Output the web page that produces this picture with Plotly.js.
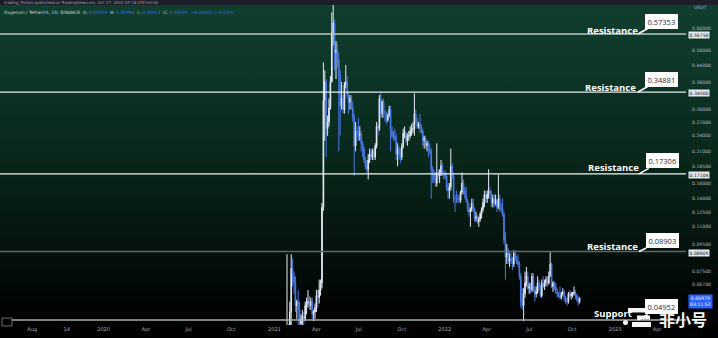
<!DOCTYPE html>
<html><head><meta charset="utf-8">
<script src="https://cdn.plot.ly/plotly-3.0.1.min.js"></script>
<style>
html,body{margin:0;padding:0;background:#000;}
#chart{width:718px;height:338px;background:linear-gradient(to bottom,#10402f 0%,#0d3528 22%,#092619 48%,#05130e 72%,#010403 90%,#000 100%);}
</style></head><body><div id="chart"></div>
<script>
// ---- data (3-day candles, DOGE/USDT, Binance) ----
const periodStart = '2021-01-27';
const periodDays = 3;
const opens = [0.0074,0.037,0.036,0.053,0.077,0.072,0.068,0.056,0.058,0.054,
0.048,0.050,0.051,0.050,0.056,0.057,0.058,0.056,0.058,0.052,
0.053,0.055,0.061,0.060,0.064,0.068,0.130,0.325,0.380,0.255,
0.270,0.305,0.380,0.580,0.630,0.490,0.500,0.460,0.400,0.310,
0.330,0.300,0.370,0.380,0.340,0.320,0.330,0.305,0.280,0.220,
0.250,0.245,0.240,0.245,0.225,0.215,0.195,0.185,0.180,0.195,
0.205,0.200,0.210,0.200,0.220,0.260,0.255,0.330,0.290,0.320,
0.290,0.290,0.275,0.285,0.300,0.250,0.240,0.240,0.235,0.205,
0.215,0.205,0.200,0.220,0.245,0.245,0.230,0.240,0.240,0.250,
0.255,0.255,0.290,0.270,0.260,0.265,0.255,0.250,0.230,0.235,
0.220,0.225,0.215,0.210,0.180,0.175,0.165,0.160,0.175,0.170,
0.175,0.185,0.175,0.170,0.170,0.155,0.150,0.155,0.185,0.170,
0.140,0.140,0.140,0.140,0.138,0.148,0.160,0.150,0.145,0.138,
0.128,0.125,0.128,0.135,0.128,0.118,0.120,0.115,0.118,0.123,
0.128,0.135,0.145,0.140,0.145,0.150,0.145,0.135,0.140,0.135,
0.138,0.130,0.140,0.128,0.128,0.122,0.098,0.085,0.090,0.082,
0.084,0.082,0.080,0.088,0.084,0.082,0.080,0.072,0.058,0.056,
0.062,0.068,0.072,0.065,0.066,0.064,0.072,0.064,0.062,0.063,
0.068,0.066,0.061,0.068,0.066,0.068,0.070,0.068,0.072,0.080,
0.066,0.068,0.066,0.063,0.062,0.061,0.060,0.062,0.063,0.060,
0.058,0.058,0.062,0.061,0.062,0.062,0.063,0.061,0.059,0.058];
const highs = [0.087,0.048,0.058,0.087,0.084,0.075,0.072,0.059,0.064,0.058,
0.052,0.054,0.053,0.058,0.060,0.064,0.061,0.060,0.060,0.054,
0.057,0.064,0.064,0.070,0.070,0.135,0.450,0.420,0.390,0.285,
0.330,0.400,0.690,0.740,0.650,0.540,0.530,0.490,0.420,0.380,
0.340,0.380,0.440,0.400,0.350,0.340,0.340,0.320,0.290,0.270,
0.260,0.280,0.260,0.250,0.230,0.220,0.200,0.195,0.205,0.215,
0.215,0.215,0.215,0.225,0.270,0.265,0.340,0.350,0.325,0.330,
0.300,0.295,0.290,0.310,0.310,0.260,0.250,0.255,0.245,0.225,
0.220,0.215,0.225,0.255,0.260,0.250,0.245,0.250,0.260,0.265,
0.270,0.345,0.300,0.280,0.270,0.290,0.265,0.255,0.240,0.240,
0.230,0.230,0.225,0.215,0.185,0.180,0.175,0.225,0.180,0.180,
0.195,0.190,0.178,0.178,0.175,0.160,0.160,0.215,0.190,0.175,
0.145,0.150,0.145,0.145,0.150,0.175,0.165,0.155,0.155,0.140,
0.135,0.130,0.140,0.140,0.130,0.125,0.122,0.120,0.125,0.130,
0.140,0.150,0.150,0.150,0.180,0.155,0.150,0.145,0.145,0.145,
0.140,0.172,0.145,0.135,0.140,0.125,0.105,0.095,0.092,0.088,
0.088,0.085,0.090,0.090,0.086,0.087,0.082,0.074,0.065,0.065,
0.075,0.078,0.075,0.068,0.068,0.074,0.074,0.066,0.066,0.072,
0.070,0.067,0.070,0.072,0.070,0.072,0.072,0.075,0.089,0.081,
0.069,0.069,0.068,0.065,0.063,0.066,0.063,0.065,0.064,0.061,
0.060,0.063,0.064,0.063,0.063,0.066,0.064,0.062,0.061,0.060];
const lows = [0.0072,0.030,0.034,0.046,0.066,0.062,0.053,0.050,0.044,0.040,
0.045,0.047,0.046,0.049,0.052,0.055,0.054,0.054,0.050,0.049,
0.050,0.053,0.055,0.057,0.061,0.065,0.126,0.230,0.200,0.240,
0.260,0.300,0.380,0.520,0.420,0.390,0.430,0.210,0.240,0.300,
0.290,0.290,0.360,0.330,0.290,0.300,0.300,0.270,0.170,0.210,
0.230,0.230,0.230,0.210,0.200,0.190,0.180,0.175,0.165,0.190,
0.195,0.195,0.195,0.195,0.215,0.240,0.250,0.280,0.280,0.280,
0.270,0.265,0.270,0.280,0.210,0.235,0.230,0.230,0.195,0.185,
0.195,0.190,0.195,0.215,0.235,0.225,0.220,0.230,0.235,0.240,
0.245,0.240,0.265,0.255,0.255,0.245,0.245,0.220,0.215,0.215,
0.210,0.200,0.205,0.140,0.160,0.160,0.155,0.155,0.165,0.160,
0.170,0.170,0.165,0.165,0.150,0.140,0.140,0.150,0.165,0.135,
0.125,0.135,0.135,0.135,0.135,0.145,0.145,0.140,0.135,0.125,
0.120,0.110,0.125,0.125,0.115,0.115,0.113,0.110,0.115,0.118,
0.125,0.130,0.135,0.135,0.140,0.140,0.130,0.130,0.130,0.132,
0.125,0.128,0.125,0.125,0.120,0.095,0.070,0.080,0.080,0.078,
0.080,0.076,0.078,0.082,0.080,0.078,0.070,0.055,0.054,0.049,
0.060,0.066,0.064,0.062,0.062,0.063,0.063,0.058,0.060,0.062,
0.064,0.060,0.060,0.065,0.064,0.066,0.066,0.067,0.072,0.065,
0.063,0.064,0.062,0.060,0.060,0.059,0.059,0.061,0.058,0.057,
0.056,0.057,0.060,0.059,0.060,0.061,0.059,0.058,0.056,0.057];
const closes = [0.037,0.036,0.053,0.077,0.072,0.068,0.056,0.058,0.054,0.048,
0.050,0.051,0.050,0.056,0.057,0.058,0.056,0.058,0.052,0.053,
0.055,0.061,0.060,0.064,0.068,0.130,0.325,0.380,0.255,0.270,
0.305,0.380,0.580,0.630,0.490,0.500,0.460,0.400,0.310,0.330,
0.300,0.370,0.380,0.340,0.320,0.330,0.305,0.280,0.220,0.250,
0.245,0.240,0.245,0.225,0.215,0.195,0.185,0.180,0.195,0.205,
0.200,0.210,0.200,0.220,0.260,0.255,0.330,0.290,0.320,0.290,
0.290,0.275,0.285,0.300,0.250,0.240,0.240,0.235,0.205,0.215,
0.205,0.200,0.220,0.245,0.245,0.230,0.240,0.240,0.250,0.255,
0.255,0.290,0.270,0.260,0.265,0.255,0.250,0.230,0.235,0.220,
0.225,0.215,0.210,0.180,0.175,0.165,0.160,0.175,0.170,0.175,
0.185,0.175,0.170,0.170,0.155,0.150,0.155,0.185,0.170,0.140,
0.140,0.140,0.140,0.138,0.148,0.160,0.150,0.145,0.138,0.128,
0.125,0.128,0.135,0.128,0.118,0.120,0.115,0.118,0.123,0.128,
0.135,0.145,0.140,0.145,0.150,0.145,0.135,0.140,0.135,0.138,
0.130,0.140,0.128,0.128,0.122,0.098,0.085,0.090,0.082,0.084,
0.082,0.080,0.088,0.084,0.082,0.080,0.072,0.058,0.056,0.062,
0.068,0.072,0.065,0.066,0.064,0.072,0.064,0.062,0.063,0.068,
0.066,0.061,0.068,0.066,0.068,0.070,0.068,0.072,0.080,0.066,
0.068,0.066,0.063,0.062,0.061,0.060,0.062,0.063,0.060,0.058,
0.058,0.062,0.061,0.062,0.062,0.063,0.061,0.059,0.058,0.0598];

// horizontal levels drawn on the chart
const levelValues = [0.57353, 0.34881, 0.17306, 0.08903, 0.04952];
const levelNames  = ['Resistance','Resistance','Resistance','Resistance','Support'];
const levelLabels = ['0.57353','0.34881','0.17306','0.08903','0.04952'];
// price-scale highlighted labels
const scaleMarkValues = [0.5675, 0.345, 0.17104, 0.08809];
const scaleMarkLabels = ['0.56750','0.34500','0.17104','0.08809'];
const lastPrice = 0.05979, lastPriceLabel = '0.05979', countdown = '03:11:52';
// axis ticks
const yTickVals = [0.6,0.5,0.44,0.38,0.3,0.27,0.24,0.21,0.185,0.16,0.14,0.125,0.11,0.095,0.075,0.067];
const yTickText = ['0.60000','0.50000','0.44000','0.38000','0.30000','0.27000','0.24000','0.21000','0.18500','0.16000','0.14000','0.12500','0.11000','0.09500','0.07500','0.06700'];
const xTickVals = ['2019-08-01','2019-10-14','2020-01-01','2020-04-01','2020-07-01','2020-10-01','2021-01-01','2021-04-01','2021-07-01','2021-10-01','2022-01-01','2022-04-01','2022-07-01','2022-10-01','2023-01-01','2023-04-01'];
const xTickText = ['Aug','14','2020','Apr','Jul','Oct','2021','Apr','Jul','Oct','2022','Apr','Jul','Oct','2023','Apr'];

// ---- build ----
const dates = opens.map((_, i) => {
  const d = new Date(periodStart + 'T00:00:00Z');
  d.setUTCDate(d.getUTCDate() + i * periodDays + 1);
  return d.toISOString().slice(0, 10);
});

const PW = 686, PH = 325;
const px = v => v / PW;          // pixel -> paper x
const py = v => 1 - v / PH;      // pixel -> paper y
const L = Math.log10;

const trace = {
  type: 'candlestick', x: dates, open: opens, high: highs, low: lows, close: closes,
  increasing: {line: {color: '#e4ebf7', width: 1}, fillcolor: '#e4ebf7'},
  decreasing: {line: {color: '#4a79e4', width: 1}, fillcolor: '#4a79e4'},
  whiskerwidth: 0, hoverinfo: 'skip', showlegend: false
};

const lineColors = ['#b9c6c0', '#e6ecea', '#f2f5f4', '#5d6b67', '#a9aeac'];
const shapes = [];
levelValues.forEach((v, i) => {
  shapes.push({type: 'line', xref: 'paper', yref: 'y', x0: i === 4 ? px(12) : 0, x1: 1, y0: v, y1: v,
    line: {color: lineColors[i], width: 1.3}, layer: 'above'});
});
// header band
shapes.push({type: 'rect', xref: 'paper', yref: 'paper', x0: 0, x1: 718 / PW, y0: 1, y1: py(5),
  fillcolor: '#1d1e2a', line: {width: 0}, layer: 'above'});
// small logo box bottom-left
shapes.push({type: 'rect', xref: 'paper', yref: 'paper', x0: px(2), x1: px(12), y0: py(318), y1: py(326),
  fillcolor: 'rgba(0,0,0,0)', line: {color: '#8a8a8a', width: 0.8}, layer: 'above'});
// watermark logo pieces
const wm = [[628,651,308,312.5],[637,650,315.5,319.5],[632,651,322,327]];
wm.forEach(r => shapes.push({type: 'rect', xref: 'paper', yref: 'paper', x0: px(r[0]), x1: px(r[1]), y0: py(r[3]), y1: py(r[2]),
  fillcolor: '#f4f4f4', line: {width: 0}, layer: 'above'}));
shapes.push({type: 'circle', xref: 'paper', yref: 'paper', x0: px(623), x1: px(628), y0: py(325), y1: py(320),
  fillcolor: '#f4f4f4', line: {width: 0}, layer: 'above'});

const ann = [];
const nameLeft = [585, 583, 586, 585, 592];
const nameShift = [4, 5, 6, 5, 6];
const tipX = [638, 638, 639, 639, 638];
const boxAy = [-13, -13, -13, -11, -13];
levelValues.forEach((v, i) => {
  ann.push({xref: 'paper', yref: 'y', x: px(nameLeft[i]), y: L(v), xanchor: 'left', yanchor: 'middle', yshift: nameShift[i],
    text: '<b>' + levelNames[i] + '</b>', showarrow: false,
    font: {family: 'Open Sans', size: 9.5, color: '#ffffff'}});
  ann.push({xref: 'paper', yref: 'y', x: px(tipX[i]), y: L(v), ax: 23, ay: boxAy[i],
    text: levelLabels[i], showarrow: true, arrowhead: 0, arrowwidth: 1.6, arrowcolor: '#ffffff',
    bgcolor: '#ffffff', bordercolor: '#ffffff', borderpad: 2.5, borderwidth: 0,
    font: {family: 'Open Sans', size: 7.5, color: '#2a2e39'}});
});
scaleMarkValues.forEach((v, i) => {
  ann.push({xref: 'paper', yref: 'y', x: 1, y: L(v), xanchor: 'left', yanchor: 'middle', xshift: 2,
    text: scaleMarkLabels[i], showarrow: false, bgcolor: '#e6e8ee', borderpad: 0.5,
    font: {family: 'DejaVu Sans', size: 4.6, color: '#131722'}});
});
ann.push({xref: 'paper', yref: 'y', x: 1, y: L(lastPrice), xanchor: 'left', yanchor: 'top', xshift: 2, yshift: 4,
  text: lastPriceLabel + '<br>' + countdown, showarrow: false, bgcolor: '#2962ff', borderpad: 1,
  font: {family: 'DejaVu Sans', size: 4.6, color: '#ffffff'}, align: 'center'});
ann.push({xref: 'paper', yref: 'paper', x: 1, y: py(8), xanchor: 'left', yanchor: 'middle', xshift: 6,
  text: 'USDT', showarrow: false, font: {family: 'DejaVu Sans', size: 4.6, color: '#b2b5be'}});
// header texts
ann.push({xref: 'paper', yref: 'paper', x: px(2), y: py(2.5), xanchor: 'left', yanchor: 'middle',
  text: 'trading_Fintals published on TradingView.com, Oct 17, 2022 07:18 UTC+0:00', showarrow: false,
  font: {family: 'DejaVu Sans', size: 4, color: '#a3a6af'}});
ann.push({xref: 'paper', yref: 'paper', x: px(2), y: py(12), xanchor: 'left', yanchor: 'middle',
  text: 'Dogecoin / TetherUS, 1D, BINANCE  O: <span style="color:#2f6bff">0.05979</span>  H: <span style="color:#2f6bff">0.05990</span>  L: <span style="color:#2f6bff">0.05911</span>  C: <span style="color:#2f6bff">0.05979  −0.00002 (−0.03%)</span>',
  showarrow: false, font: {family: 'DejaVu Sans', size: 4.4, color: '#d1d4dc'}});
// watermark text
ann.push({xref: 'paper', yref: 'paper', x: px(683), y: py(318.5), xanchor: 'center', yanchor: 'middle',
  text: '<b>非小号</b>', showarrow: false, font: {family: 'Noto Sans CJK SC', size: 16, color: '#f4f4f4'}});

const layout = {
  width: 718, height: 338,
  margin: {l: 0, r: 32, t: 0, b: 13, pad: 0},
  paper_bgcolor: 'rgba(0,0,0,0)', plot_bgcolor: 'rgba(0,0,0,0)',
  showlegend: false,
  xaxis: {type: 'date', range: ['2019-05-24', '2023-06-02'], rangeslider: {visible: false},
    tickvals: xTickVals, ticktext: xTickText, showgrid: false, zeroline: false, showline: false, ticks: '',
    tickfont: {family: 'DejaVu Sans', size: 5, color: '#a9acb4'}, fixedrange: true},
  yaxis: {type: 'log', side: 'right', range: [L(0.04744), L(0.7675)],
    tickvals: yTickVals, ticktext: yTickText, showgrid: false, zeroline: false, showline: false, ticks: '',
    ticklabelstandoff: 5,
    tickfont: {family: 'DejaVu Sans', size: 4.6, color: '#b2b5be'}, fixedrange: true},
  shapes: shapes, annotations: ann
};
Plotly.newPlot('chart', [trace], layout, {displayModeBar: false, staticPlot: true});
</script></body></html>
